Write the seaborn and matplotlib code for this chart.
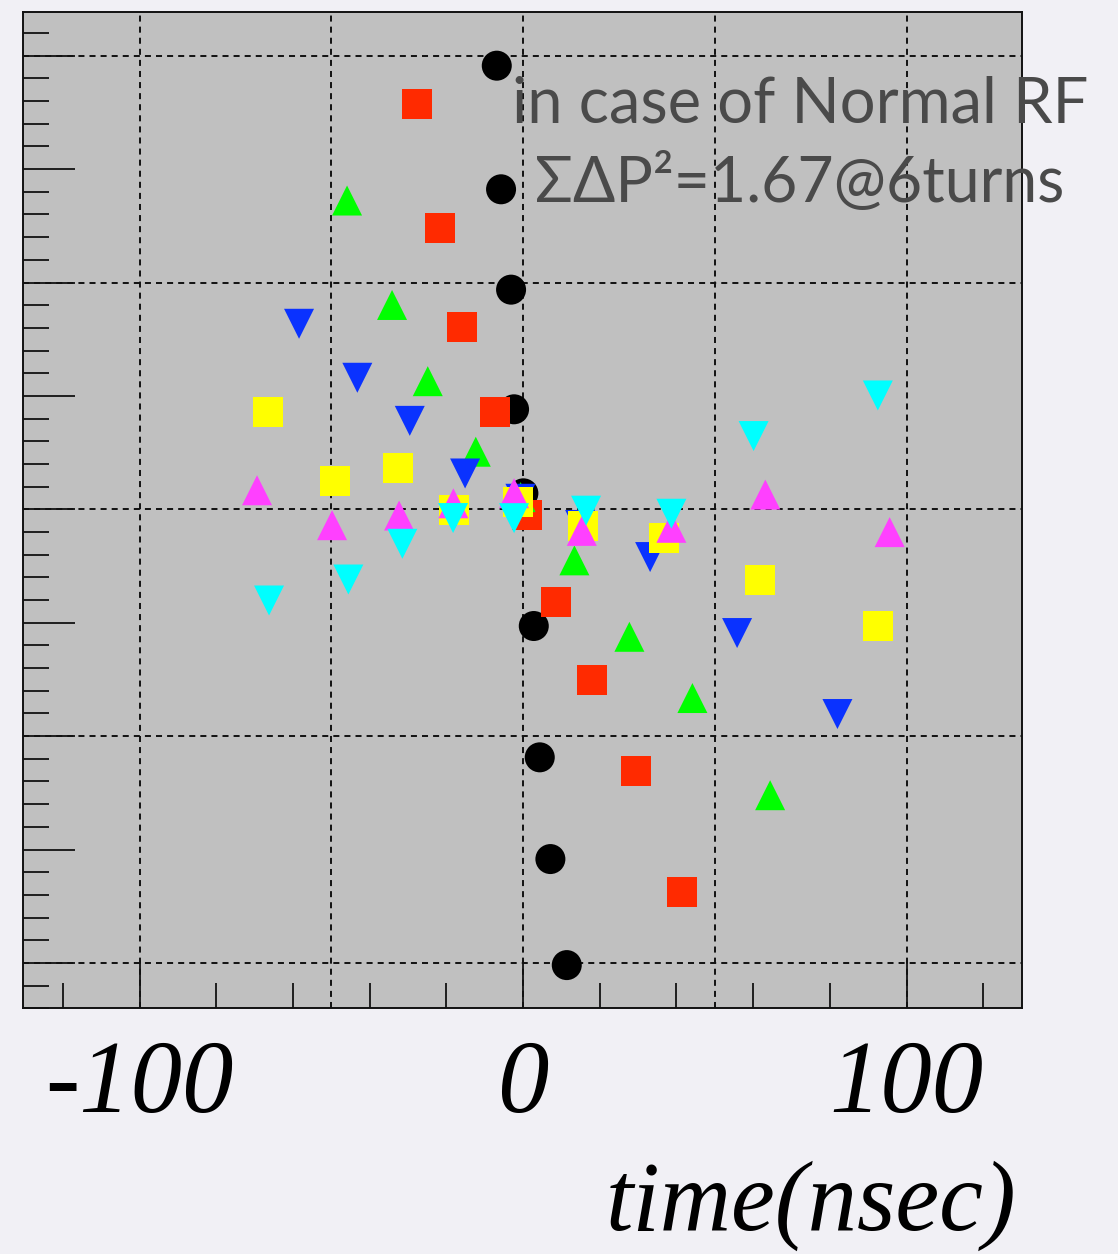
import numpy as np
import pandas as pd
import matplotlib
matplotlib.use("Agg")
import matplotlib.pyplot as plt
import seaborn as sns
from matplotlib.ticker import FixedLocator, NullFormatter

# ---------------- data (time in nsec, dP in arbitrary units) ----------------
black_t = [-6.86, -5.74, -3.13, -2.35, 0.08, 2.79, 4.35, 7.12, 11.39]
black_dp = [3.912, 2.822, 1.937, 0.882, 0.141, -1.029, -2.187, -3.084, -4.019]

red_t = [-27.56, -21.72, -15.91, -7.30, 0.91, 8.68, 17.99, 29.39, 41.46]
red_dp = [3.571, 2.478, 1.608, 0.855, -0.053, -0.817, -1.503, -2.305, -3.375]

green_t = [-45.89, -34.16, -24.85, -12.33, -0.65, 13.38, 27.72, 44.15, 64.41]
green_dp = [2.723, 1.802, 1.130, 0.508, 0.108, -0.450, -1.124, -1.664, -2.521]

blue_t = [-58.41, -43.21, -29.54, -15.12, -0.70, 14.86, 33.12, 55.80, 81.96]
blue_dp = [1.636, 1.160, 0.780, 0.316, 0.093, -0.138, -0.421, -1.091, -1.805]

yellow_t = [-66.57, -49.02, -32.67, -17.91, -1.38, 15.72, 36.77, 61.72, 92.49]
yellow_dp = [0.855, 0.252, 0.367, -0.002, 0.064, -0.147, -0.253, -0.621, -1.029]

magenta_t = [-69.36, -49.80, -32.33, -18.17, -2.35, 15.31, 38.67, 63.16, 95.57]
magenta_dp = [0.168, -0.140, -0.055, 0.053, 0.142, -0.190, -0.163, 0.130, -0.201]

cyan_t = [-66.23, -45.55, -31.47, -18.25, -2.35, 16.43, 38.67, 60.10, 92.49]
cyan_dp = [-0.804, -0.619, -0.304, -0.077, -0.078, -0.012, -0.039, 0.646, 1.004]

x_tick_values = [-100, 0, 100]
x_tick_labels = ["-100", "0", "100"]
x_label = "time(nsec)"
note_line1 = "in case of Normal RF"
note_line2 = "\u03a3\u0394P\u00b2=1.67@6turns"

series_names = ["black", "red", "green", "blue", "yellow", "magenta", "cyan"]
series_t = [black_t, red_t, green_t, blue_t, yellow_t, magenta_t, cyan_t]
series_dp = [black_dp, red_dp, green_dp, blue_dp, yellow_dp, magenta_dp, cyan_dp]

df = pd.concat(
    [pd.DataFrame({"t": t, "dp": d, "series": n})
     for n, t, d in zip(series_names, series_t, series_dp)],
    ignore_index=True,
)

# ---------------- styles ----------------
style = {
    "black": ("o", "#000000"),
    "red": ("s", "#ff2a00"),
    "green": ("^", "#00ff00"),
    "blue": ("v", "#0a32ff"),
    "yellow": ("s", "#ffff00"),
    "magenta": ("^", "#ff40ff"),
    "cyan": ("v", "#00ffff"),
}

sns.set_theme(style="white")
plt.rcParams['font.family'] = ['Lato', 'Noto Sans', 'DejaVu Sans']

W, H = 1118, 1254
fig = plt.figure(figsize=(W / 100, H / 100), dpi=100, facecolor="#f1f0f5")
L, R, T, B = 23.3, 1021.7, 11.7, 1008.3
ax = fig.add_axes([L / W, (H - B) / H, (R - L) / W, (B - T) / H])
ax.set_facecolor("#c0c0c0")

ax.set_xlim(-130.3, 130.0)
ax.set_ylim(-4.40, 4.388)

# grid (dashed)
for gx in [-100, -50, 0, 50, 100]:
    ax.axvline(gx, color="#111111", lw=1.4, ls=(0, (3.1, 2.6)), zorder=1)
for gy in [-4, -2, 0, 2, 4]:
    ax.axhline(gy, color="#111111", lw=1.4, ls=(0, (3.1, 2.6)), zorder=1)

msize = (30 * 0.72) ** 2
for i, name in enumerate(series_names):
    mk, col = style[name]
    sub = df[df["series"] == name]
    sns.scatterplot(data=sub, x="t", y="dp", marker=mk, color=col, s=msize,
                    linewidth=0, edgecolor="none", ax=ax, legend=False,
                    zorder=3 + i)

# ticks
ax.xaxis.set_major_locator(FixedLocator(x_tick_values))
ax.set_xticklabels(x_tick_labels)
ax.xaxis.set_minor_locator(FixedLocator([-120, -80, -60, -40, -20, 20, 40, 60, 80, 120]))
ax.yaxis.set_major_locator(FixedLocator(np.arange(-4, 4.01, 1.0)))
ax.yaxis.set_minor_locator(FixedLocator(np.arange(-4.4, 4.41, 0.2)))
ax.yaxis.set_major_formatter(NullFormatter())
ax.tick_params(axis="x", which="major", direction="in", length=34.6, width=1.3,
               color="#111111", pad=22.5, labelsize=74, bottom=True, top=False)
ax.tick_params(axis="x", which="minor", direction="in", length=18, width=1.3,
               color="#111111", bottom=True, top=False)
ax.tick_params(axis="y", which="major", direction="in", length=37.4, width=1.3,
               color="#111111", left=True, right=False, labelleft=False)
ax.tick_params(axis="y", which="minor", direction="in", length=18.7, width=1.3,
               color="#111111", left=True, right=False)
for lab in ax.get_xticklabels():
    lab.set_family("Liberation Serif")
    lab.set_style("italic")
    lab.set_color("black")

for sp in ax.spines.values():
    sp.set_visible(True)
    sp.set_color("#111111")
    sp.set_linewidth(1.4)

ax.set_ylabel("")
ax.set_xlabel(x_label, fontsize=71, family="Liberation Serif", style="italic",
              color="black")
ax.xaxis.set_label_coords((1016 - L) / (R - L), -(1230 - B) / (B - T))
ax.xaxis.label.set_ha("right")
ax.xaxis.label.set_va("baseline")

fig.text(512 / W, 1 - 122.7 / H, note_line1, fontsize=45.5, color="#4a4a4a",
         ha="left", va="baseline")
fig.text(535 / W, 1 - 201.7 / H, note_line2, fontsize=45, color="#4a4a4a",
         ha="left", va="baseline")

fig.savefig("out.png", dpi=100, facecolor=fig.get_facecolor())
